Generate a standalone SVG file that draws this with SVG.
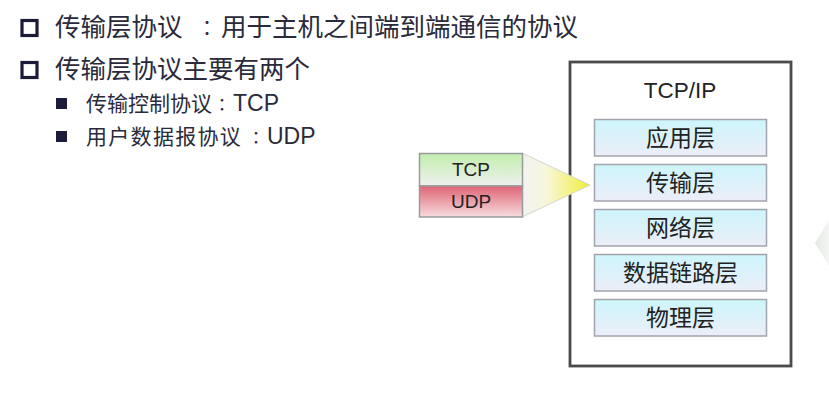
<svg xmlns="http://www.w3.org/2000/svg" width="829" height="401" viewBox="0 0 829 401">
  <defs>
    <linearGradient id="layerFill" x1="0" y1="0" x2="0" y2="1">
      <stop offset="0" stop-color="#cdf5fb"/>
      <stop offset="1" stop-color="#eceef8"/>
    </linearGradient>
    <linearGradient id="tcpFill" x1="0" y1="0" x2="0" y2="1">
      <stop offset="0" stop-color="#c2eeae"/>
      <stop offset="1" stop-color="#eef0ee"/>
    </linearGradient>
    <linearGradient id="udpFill" x1="0" y1="0" x2="0" y2="1">
      <stop offset="0" stop-color="#df6474"/>
      <stop offset="1" stop-color="#f6dde0"/>
    </linearGradient>
    <linearGradient id="arrowFill" x1="0" y1="0" x2="1" y2="0">
      <stop offset="0" stop-color="#f2f2f2"/>
      <stop offset="0.35" stop-color="#f8f6dc"/>
      <stop offset="0.75" stop-color="#f4f27a"/>
      <stop offset="1" stop-color="#ecec2c"/>
    </linearGradient>
    <linearGradient id="ghostFill" x1="0" y1="0" x2="1" y2="0">
      <stop offset="0" stop-color="#e4e8e4"/>
      <stop offset="1" stop-color="#f4f6f4"/>
    </linearGradient>
  </defs>
  <style>
    .txt { font-family: "Liberation Sans", "Noto Sans CJK SC", sans-serif; fill: #2a2a3a; }
    .main { font-size: 25.5px; }
    .sub { font-size: 21px; }
    .lat { font-size: 23px; }
    .colon { font-family: "Noto Sans CJK TC", "Noto Sans CJK SC", sans-serif; text-anchor: middle; }
    .layer rect { fill: url(#layerFill); stroke: #a2a4ac; stroke-width: 1.5; }
    .layer text { font-family: "Noto Sans CJK SC", sans-serif; font-size: 23px; fill: #222; text-anchor: middle; }
    .hollow { fill: none; stroke: #1c1c3a; stroke-width: 3.2; }
    .solid { fill: #1c1c3a; }
    .proto text { font-family: "Liberation Sans", sans-serif; font-size: 19px; fill: #222; text-anchor: middle; }
  </style>
  <rect width="829" height="401" fill="#ffffff"/>

  <!-- faint artifact at right edge -->
  <polygon points="815,243 829,220 829,266" fill="url(#ghostFill)"/>

  <!-- bullet text -->
  <g id="bullets">
    <rect class="hollow" x="22" y="20.5" width="15" height="15"/>
    <text class="txt main" y="36"><tspan x="55">传输层协议</tspan><tspan class="colon" x="207" font-size="20">：</tspan><tspan x="221">用于主机之间端到端通信的协议</tspan></text>

    <rect class="hollow" x="22" y="62.5" width="15" height="15"/>
    <text class="txt main" x="55" y="78">传输层协议主要有两个</text>

    <rect class="solid" x="56" y="98" width="11" height="11"/>
    <text class="txt sub" y="111"><tspan x="86">传输控制协议</tspan><tspan class="colon" x="222" font-size="17">：</tspan><tspan class="lat" x="233">TCP</tspan></text>

    <rect class="solid" x="56" y="131" width="11" height="11"/>
    <text class="txt sub" y="144"><tspan x="86" letter-spacing="1.3">用户数据报协议</tspan><tspan class="colon" x="256" font-size="17">：</tspan><tspan class="lat" x="267">UDP</tspan></text>
  </g>

  <!-- TCP/IP stack frame -->
  <g id="tcpip">
    <rect x="570" y="62" width="221" height="304" fill="#ffffff" stroke="#4a4a4a" stroke-width="2.8"/>
    <text x="680" y="98" font-family="Liberation Sans, sans-serif" font-size="22.5" fill="#222" text-anchor="middle">TCP/IP</text>
  </g>

  <!-- connector: callout from protocol box to transport layer -->
  <g id="connectors">
    <polygon points="522,153 590,185 522,217" fill="url(#arrowFill)" stroke="#d6d6ce" stroke-width="1"/>
  </g>

  <!-- TCP/UDP protocol box -->
  <g id="proto-box" class="proto">
    <g id="tcp">
      <rect x="419.5" y="153.5" width="103" height="32.5" fill="url(#tcpFill)" stroke="#9a9a9a" stroke-width="1.5"/>
      <text x="471" y="176">TCP</text>
    </g>
    <g id="udp">
      <rect x="419.5" y="186" width="103" height="31" fill="url(#udpFill)" stroke="#9a9a9a" stroke-width="1.5"/>
      <text x="471" y="208">UDP</text>
    </g>
  </g>

  <g id="layer-app" class="layer">
    <rect x="594.5" y="119.5" width="172" height="36.5"/>
    <text x="680.5" y="146">应用层</text>
  </g>
  <g id="layer-transport" class="layer">
    <rect x="594.5" y="164.5" width="172" height="36.5"/>
    <text x="680.5" y="191">传输层</text>
  </g>
  <g id="layer-network" class="layer">
    <rect x="594.5" y="209.5" width="172" height="36.5"/>
    <text x="680.5" y="236">网络层</text>
  </g>
  <g id="layer-link" class="layer">
    <rect x="594.5" y="254.5" width="172" height="36.5"/>
    <text x="680.5" y="281">数据链路层</text>
  </g>
  <g id="layer-physical" class="layer">
    <rect x="594.5" y="299.5" width="172" height="36.5"/>
    <text x="680.5" y="326">物理层</text>
  </g>
</svg>
